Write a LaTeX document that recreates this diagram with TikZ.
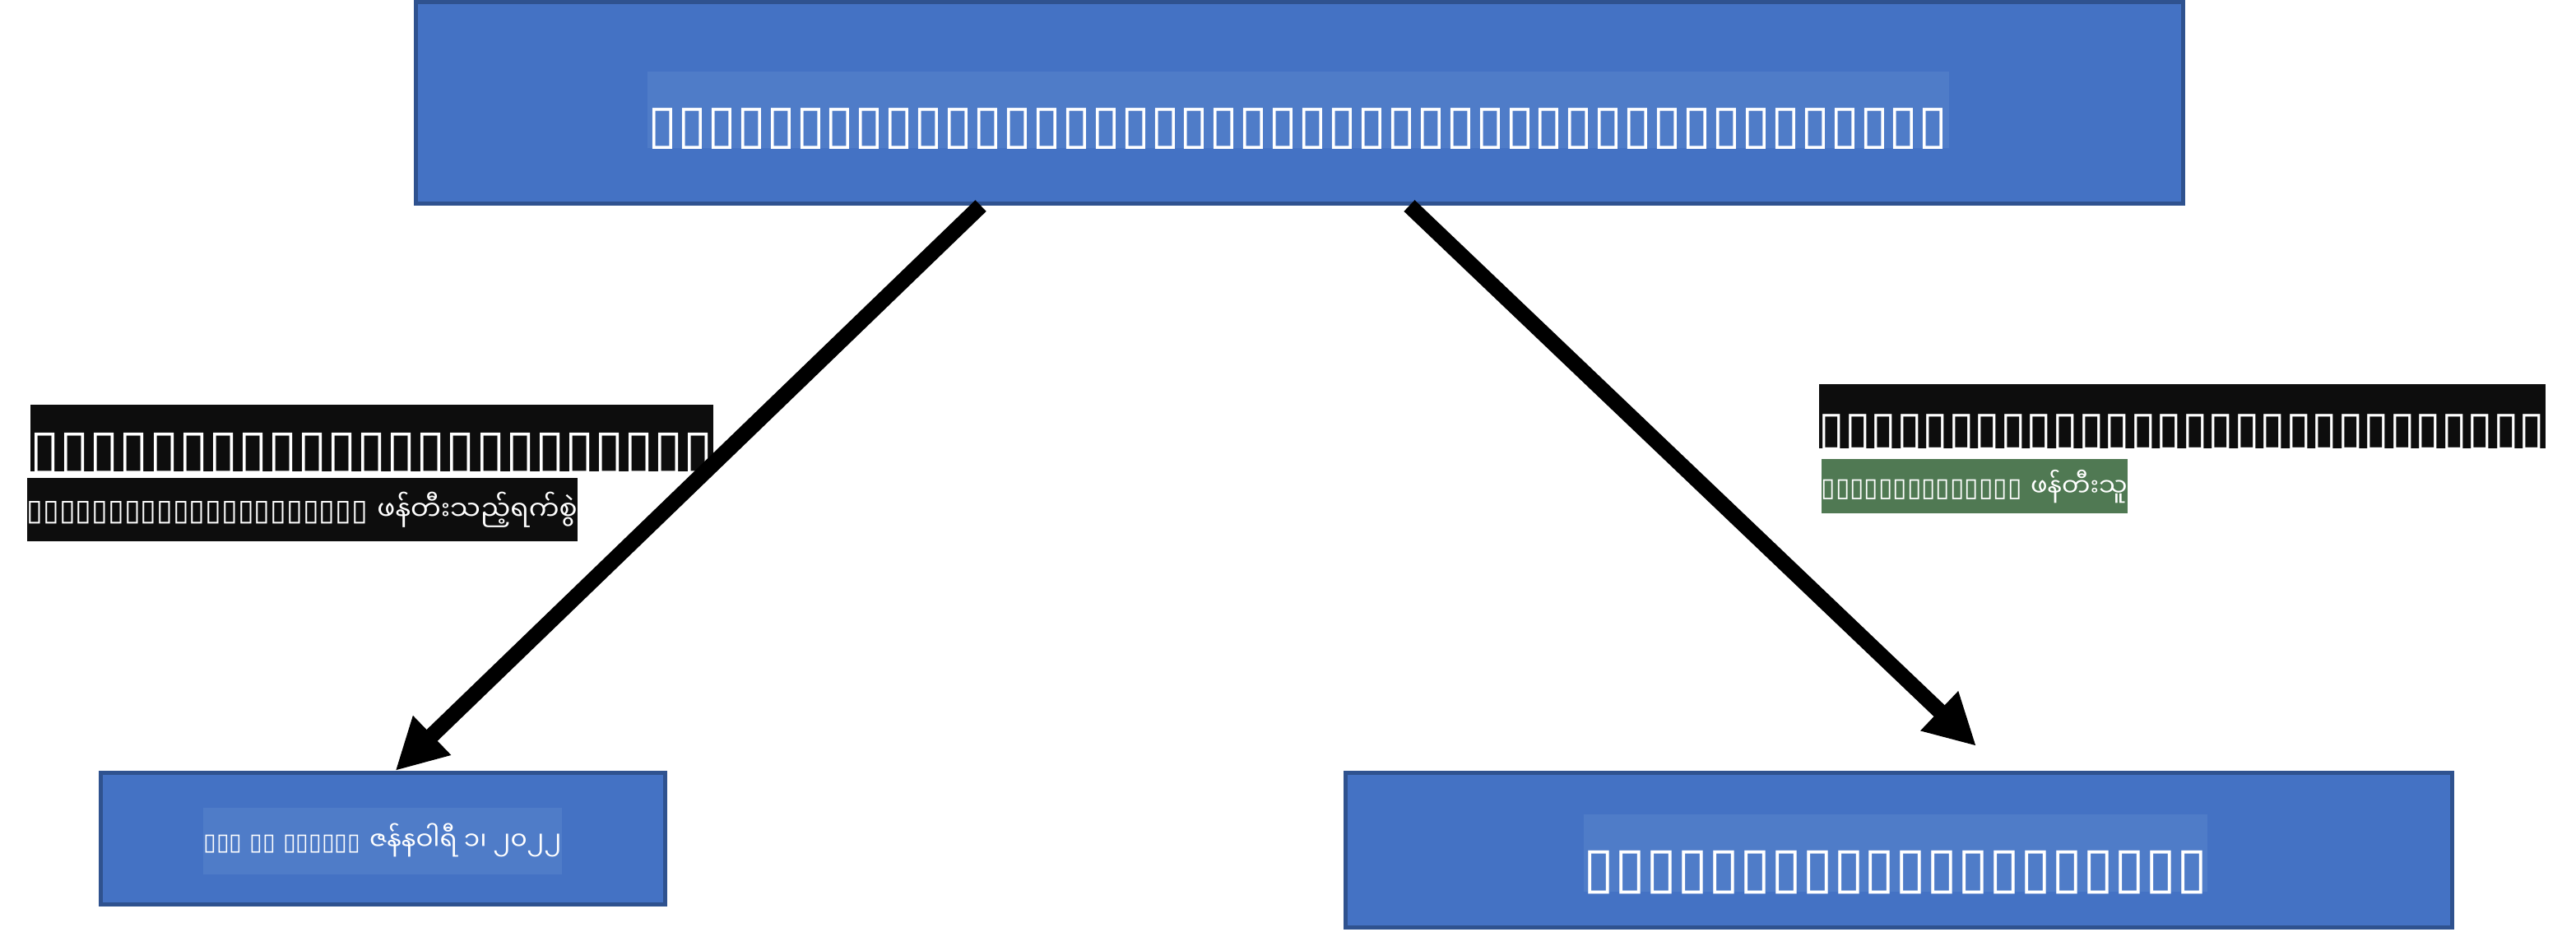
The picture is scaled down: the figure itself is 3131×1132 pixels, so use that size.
\documentclass[tikz,border=0pt]{standalone}
\usepackage{fontspec}
\usetikzlibrary{arrows.meta,calc}
\newfontfamily\tofu{DejaVu Sans}
\newfontfamily\mya[Script=Myanmar]{Noto Sans Myanmar UI}
\newcommand\fs[1]{\fontsize{#1}{#1}\selectfont}
\definecolor{boxblue}{RGB}{68,114,196}
\definecolor{boxedge}{RGB}{47,82,143}
\definecolor{hiblue}{RGB}{79,124,200}
\definecolor{tagblack}{RGB}{13,13,13}
\definecolor{taggreen}{RGB}{80,121,83}
\tikzset{
    bluebox/.style={draw=boxedge, fill=boxblue, line width=0.05cm, inner sep=0pt},
    hilite/.style={fill=hiblue, text=white, inner sep=0pt},
    blacktag/.style={fill=tagblack, text=white, inner sep=0pt},
    greentag/.style={fill=taggreen, text=white, inner sep=0pt},
    bigarrow/.style={line width=0.19cm, -{Triangle[length=0.62cm,width=0.62cm]}}
}
\begin{document}
\begin{tikzpicture}[x=0.01cm, y=-0.01cm]
        \useasboundingbox (0, 0) rectangle (3131, 1132);

        % boxes
        \node[bluebox, minimum width=21.46cm, minimum height=2.45cm] at (1579.5, 125)(titlebox){};
        \node[bluebox, minimum width=6.86cm, minimum height=1.60cm] at (465.5, 1019.5)(datebox){};
        \node[bluebox, minimum width=13.45cm, minimum height=1.88cm] at (2308, 1033.5)(authorbox){};

        \node[hilite, anchor=base, text height=0.86cm, text depth=0.07cm] at (1578, 173)(titletext)
            {\fs{18.57}\tofu ▯▯▯▯▯▯▯▯▯▯▯▯▯▯▯▯▯▯▯▯▯▯▯▯▯▯▯▯▯▯▯▯▯▯▯▯▯▯▯▯▯▯▯▯};
        \node[hilite, anchor=base, text height=0.51cm, text depth=0.30cm] at (465, 1033)(datetext)
            {\fs{8.8}{\tofu\fs{8.12}▯▯▯ ▯▯ ▯▯▯▯▯▯} {\mya ဇန်နဝါရီ ၁၊ ၂၀၂၂}};
        \node[hilite, anchor=base, text height=0.88cm, text depth=0.06cm] at (2304, 1078)(authortext)
            {\fs{19.6}\tofu ▯▯▯▯▯▯▯▯▯▯▯▯▯▯▯▯▯▯▯▯};

        % labels
        \node[blacktag, anchor=base west, text height=0.76cm, text depth=0.05cm] at (36, 568)(datehead)
            {\fs{18.66}\tofu ▯▯▯▯▯▯▯▯▯▯▯▯▯▯▯▯▯▯▯▯▯▯▯};
        \node[blacktag, anchor=base west, text height=0.51cm, text depth=0.26cm] at (32, 632)(datesub)
            {\fs{9.3}{\tofu\fs{10.2}▯▯▯▯▯▯▯▯▯▯▯▯▯▯▯▯▯▯▯▯▯} {\mya ဖန်တီးသည့်ရက်စွဲ}};
        \node[blacktag, anchor=base west, text height=0.73cm, text depth=0.05cm] at (2210, 540)(authorhead)
            {\fs{16.3}\tofu ▯▯▯▯▯▯▯▯▯▯▯▯▯▯▯▯▯▯▯▯▯▯▯▯▯▯▯▯};
        \node[greentag, anchor=base west, text height=0.45cm, text depth=0.21cm] at (2213, 603)(authorsub)
            {\fs{8.7}{\tofu\fs{9.0}▯▯▯▯▯▯▯▯▯▯▯▯▯▯} {\mya ဖန်တီးသူ}};

        % arrows
        \draw[bigarrow] ($(titlebox.south west)!0.32!(titlebox.south east)$) to ($(datebox.north)+(15, 0)$);
        \draw[bigarrow] ($(titlebox.south west)!0.562!(titlebox.south east)$) to ($(authorbox.north)+(94, -30)$);
    \end{tikzpicture}
\end{document}
